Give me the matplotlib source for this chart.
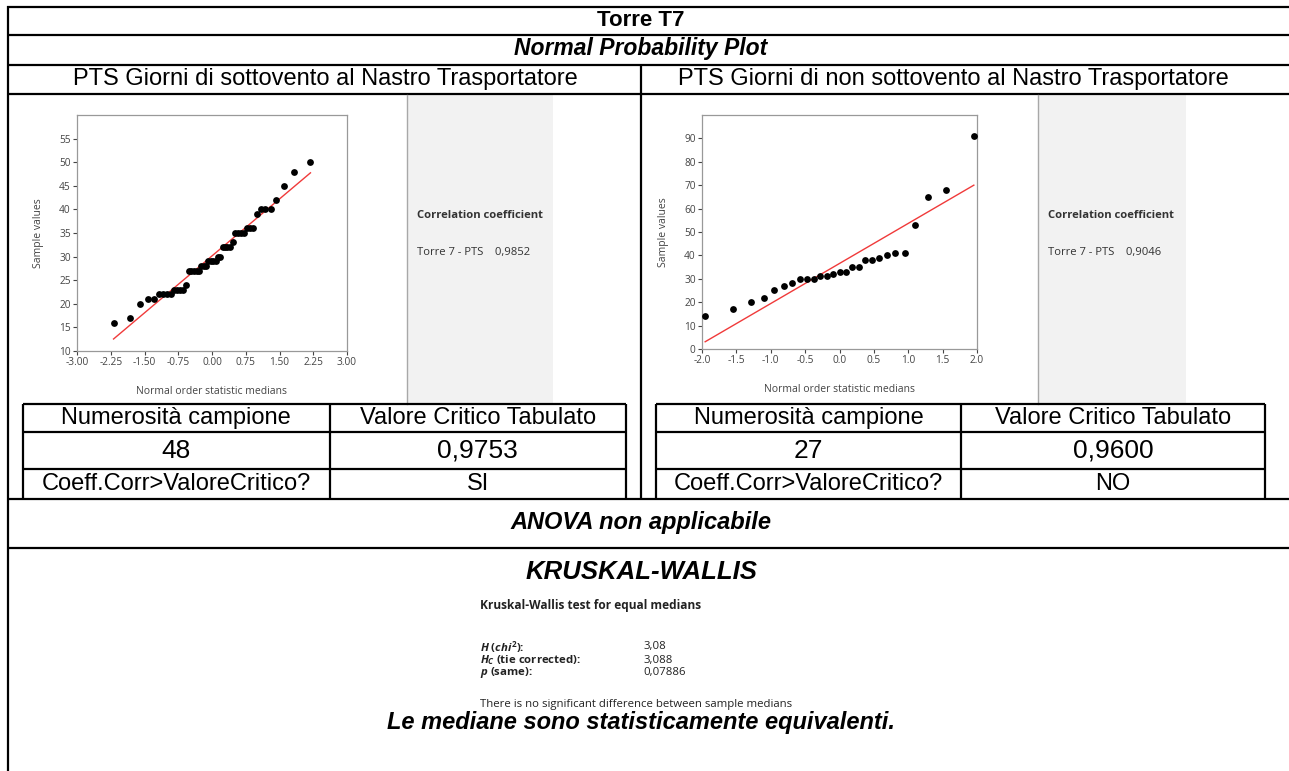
import numpy as np
import matplotlib
matplotlib.use("Agg")
import matplotlib.pyplot as plt
from matplotlib.patches import Rectangle

W, H = 1289, 771

# normal order statistic medians and sorted sample values, "sottovento" days
x_sotto = [-2.188, -1.815, -1.594, -1.431, -1.300, -1.188, -1.089, -0.999, -0.917, -0.841,
           -0.769, -0.701, -0.637, -0.574, -0.514, -0.456, -0.399, -0.343, -0.289, -0.235,
           -0.182, -0.130, -0.078, -0.026, 0.026, 0.078, 0.130, 0.182, 0.235, 0.289,
           0.343, 0.399, 0.456, 0.514, 0.574, 0.637, 0.701, 0.769, 0.841, 0.917,
           0.999, 1.089, 1.188, 1.300, 1.431, 1.594, 1.815, 2.188]
y_sotto = [16, 17, 20, 21, 21, 22, 22, 22, 22, 23, 23, 23, 23, 24, 27, 27, 27, 27, 27, 28,
           28, 28, 29, 29, 29, 29, 30, 30, 32, 32, 32, 32, 33, 35, 35, 35, 35, 36, 36, 36,
           39, 40, 40, 40, 42, 45, 48, 50]

# "non sottovento" days
x_non = [-1.954, -1.542, -1.293, -1.105, -0.950, -0.814, -0.693, -0.581, -0.475, -0.374,
         -0.278, -0.184, -0.092, 0.0, 0.092, 0.184, 0.278, 0.374, 0.475, 0.581,
         0.693, 0.814, 0.950, 1.105, 1.293, 1.542, 1.954]
y_non = [14, 17, 20, 22, 25, 27, 28, 30, 30, 30, 31, 31, 32, 33, 33, 35, 35, 38, 38, 39,
         40, 41, 41, 53, 65, 68, 91]

xticks_sotto = [-3.00, -2.25, -1.50, -0.75, 0.00, 0.75, 1.50, 2.25, 3.00]
yticks_sotto = [10, 15, 20, 25, 30, 35, 40, 45, 50, 55]
xticks_non = [-2.0, -1.5, -1.0, -0.5, 0.0, 0.5, 1.0, 1.5, 2.0]
yticks_non = [0, 10, 20, 30, 40, 50, 60, 70, 80, 90]

corr_sotto = "0,9852"
corr_non = "0,9046"
table_sotto = [["Numerosità campione", "Valore Critico Tabulato"],
               ["48", "0,9753"],
               ["Coeff.Corr>ValoreCritico?", "SI"]]
table_non = [["Numerosità campione", "Valore Critico Tabulato"],
             ["27", "0,9600"],
             ["Coeff.Corr>ValoreCritico?", "NO"]]
kw_labels = [r"$H$ ($chi^{2}$):", r"$H_C$ (tie corrected):", r"$p$ (same):"]
kw_values = ["3,08", "3,088", "0,07886"]

plt.rcParams['axes.unicode_minus'] = False
plt.rcParams['mathtext.fontset'] = 'custom'
plt.rcParams['mathtext.it'] = 'Open Sans:italic:bold'
plt.rcParams['mathtext.rm'] = 'Open Sans:bold'

TAB = 'Liberation Sans'
PLT = 'Open Sans'

fig = plt.figure(figsize=(W / 100, H / 100), dpi=100)
bg = fig.add_axes([0, 0, 1, 1])
bg.set_xlim(0, W)
bg.set_ylim(H, 0)
bg.axis('off')


def hline(y, x0, x1, lw=1.6):
    bg.plot([x0, x1], [y, y], color='black', lw=lw, solid_capstyle='butt')


def vline(x, y0, y1, lw=1.6):
    bg.plot([x, x], [y0, y1], color='black', lw=lw, solid_capstyle='butt')


def txt(x, y, s, size=17, **kw):
    bg.text(x, y, s, fontsize=size, family=TAB, ha='center', va='center', **kw)


# outer grid
vline(7.5, 6, H)
for y in [7, 35, 64.5, 94, 498.5, 548]:
    hline(y, 6.5, W)
vline(641, 64.5, 498.5)

txt(641, 20, "Torre T7", size=16, weight='bold')
txt(641, 49, "Normal Probability Plot", size=16.5, weight='bold', style='italic')
txt(325, 79, "PTS Giorni di sottovento al Nastro Trasportatore")
txt(953, 79, "PTS Giorni di non sottovento al Nastro Trasportatore")

# grey correlation panels
for gx0, gx1, val in [(407, 553, corr_sotto), (1038, 1186, corr_non)]:
    bg.add_patch(Rectangle((gx0, 95), gx1 - gx0, 309, fc='#f2f2f2', ec='none'))
    bg.plot([gx0, gx0], [95, 404], color='#a8a8a8', lw=1)
    bg.text(gx0 + 10, 216, "Correlation coefficient", fontsize=8.1, family=PLT,
            weight='bold', color='#333333', va='center')
    bg.text(gx0 + 10, 252, "Torre 7 - PTS    " + val, fontsize=8.1, family=PLT,
            color='#333333', va='center')

# small tables
for (tx0, tx1, tmid, rows) in [(22.7, 625.7, 330, table_sotto), (656, 1265, 961, table_non)]:
    hline(404, tx0, tx1)
    hline(432, tx0, tx1)
    hline(469, tx0, tx1)
    vline(tx0, 404, 498.5)
    vline(tx1, 404, 498.5)
    vline(tmid, 404, 498.5)
    for (yc, row, size) in zip([418, 450.5, 484], rows, [17, 19, 17]):
        txt((tx0 + tmid) / 2, yc, row[0], size=size)
        txt((tmid + tx1) / 2, yc, row[1], size=size)

txt(641, 523, "ANOVA non applicabile", weight='bold', style='italic')
txt(641, 572, "KRUSKAL-WALLIS", size=18.5, weight='bold', style='italic')

bg.text(480, 606, "Kruskal-Wallis test for equal medians", fontsize=8.6, family=PLT,
        weight='bold', color='#222222', va='center')
for yk, lab, val in zip([647, 660, 673], kw_labels, kw_values):
    bg.text(480, yk, lab, fontsize=8.2, family=PLT, weight='bold', color='#222222', va='center')
    bg.text(643, yk, val, fontsize=8.2, family=PLT, color='#222222', va='center')
bg.text(480, 704, "There is no significant difference between sample medians", fontsize=8.2,
        family=PLT, color='#222222', va='center')
txt(641, 723, "Le mediane sono statisticamente equivalenti.", weight='bold', style='italic')


def px_axes(l, t, r, b):
    return fig.add_axes([l / W, 1 - b / H, (r - l) / W, (b - t) / H])


def qq(ax, x, y, xlim, ylim, xt, yt, xfmt):
    ax.scatter(x, y, s=24, color='black', zorder=3, linewidths=0)
    # reference line: slope = sd(y)/sd(x) through the means
    x_arr, y_arr = np.asarray(x), np.asarray(y)
    k = y_arr.std() / x_arr.std()
    c = y_arr.mean() - k * x_arr.mean()
    xs = np.array([x_arr.min(), x_arr.max()])
    ax.plot(xs, k * xs + c, color='#f03a3a', lw=1.0, zorder=2)
    ax.set_xlim(*xlim)
    ax.set_ylim(*ylim)
    ax.set_xticks(xt)
    ax.set_xticklabels([xfmt.format(v) for v in xt])
    ax.set_yticks(yt)
    for sp in ['top', 'right', 'left', 'bottom']:
        ax.spines[sp].set_color('#999999')
        ax.spines[sp].set_linewidth(0.9)
    ax.tick_params(labelsize=7.3, colors='#444444', length=3, width=0.8, pad=1.5)
    for lab in ax.get_xticklabels() + ax.get_yticklabels():
        lab.set_family(PLT)
    ax.set_xlabel("Normal order statistic medians", fontsize=7.5, family=PLT,
                  color='#444444', labelpad=13)
    ax.set_ylabel("Sample values", fontsize=7.5, family=PLT, color='#444444', labelpad=11)


ax1 = px_axes(77, 115, 347, 351)
qq(ax1, x_sotto, y_sotto, (-3, 3), (10, 60), xticks_sotto, yticks_sotto, "{:.2f}")
ax2 = px_axes(702, 115, 977, 349)
qq(ax2, x_non, y_non, (-2, 2), (0, 100), xticks_non, yticks_non, "{:.1f}")

fig.savefig("out.png", dpi=100)
